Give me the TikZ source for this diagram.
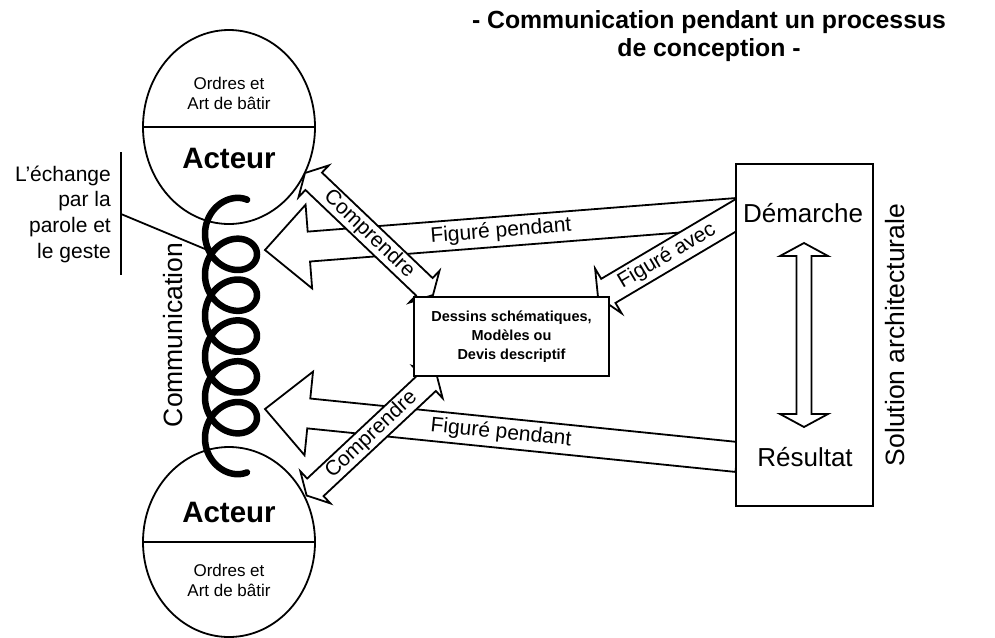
\documentclass[tikz,border=0pt]{standalone}
\usepackage{fontspec}
\setmainfont{Liberation Sans}
\usetikzlibrary{calc,shapes.geometric}

\tikzset{
  outline/.style={line width=1.8pt, line join=miter},
  blockarrow/.style={outline, fill=white},
  arrowtext/.style={font=\fontsize{21}{24}\selectfont, inner sep=0pt},
  actor/.style={ellipse, draw, line width=1.8pt, fill=white,
    minimum width=172pt, minimum height=194pt, inner sep=0pt},
  actorname/.style={font=\bfseries\fontsize{29.5}{32}\selectfont, inner sep=0pt},
  rules/.style={font=\fontsize{17}{20}\selectfont, align=center, inner sep=0pt},
  bigtext/.style={font=\fontsize{26}{30}\selectfont, inner sep=0pt},
  sidenote/.style={font=\fontsize{21}{25.7}\selectfont, align=right, inner sep=0pt},
  docbox/.style={draw, line width=1.8pt, fill=white, minimum width=195pt,
    minimum height=79pt, align=center, inner sep=0pt,
    font=\bfseries\fontsize{14.5}{19}\selectfont},
  solbox/.style={draw, line width=1.8pt, fill=white, minimum width=137pt,
    minimum height=342pt, inner sep=0pt},
  heading/.style={font=\bfseries\fontsize{24.8}{28}\selectfont, align=center, inner sep=0pt},
  coil/.style={line width=6.5pt, line cap=round, line join=round},
}

% one-headed block arrow: [text pos] tail, tip, shaft half-width,
% head half-width, head length, label
\newcommand{\onewayarrow}[7][0.5]{%
  \draw[blockarrow]
    ($(#2)!#4!90:(#3)$) --
    ($(#3)!#6!(#2)!#4!90:(#3)$) --
    ($(#3)!#6!(#2)!#5!90:(#3)$) --
    (#3) --
    ($(#3)!#6!(#2)!#5!-90:(#3)$) --
    ($(#3)!#6!(#2)!#4!-90:(#3)$) --
    ($(#2)!#4!-90:(#3)$) -- cycle;
  \path (#2) -- (#3) node[pos=#1, sloped, arrowtext] {#7};
}

% two-headed block arrow: end A, end B, shaft half-width,
% head half-width, head length, label
\newcommand{\twowayarrow}[6]{%
  \draw[blockarrow]
    (#1) --
    ($(#1)!#5!(#2)!#4!90:(#2)$) --
    ($(#1)!#5!(#2)!#3!90:(#2)$) --
    ($(#2)!#5!(#1)!#3!-90:(#1)$) --
    ($(#2)!#5!(#1)!#4!-90:(#1)$) --
    (#2) --
    ($(#2)!#5!(#1)!#4!90:(#1)$) --
    ($(#2)!#5!(#1)!#3!90:(#1)$) --
    ($(#1)!#5!(#2)!#3!-90:(#2)$) --
    ($(#1)!#5!(#2)!#4!-90:(#2)$) -- cycle;
  \path (#1) -- (#2) node[midway, sloped, arrowtext] {#6};
}

\begin{document}
\begin{tikzpicture}[x=1pt, y=-1pt]
  \useasboundingbox (0,0) rectangle (995,637);

  % title
  \node[heading] (title) at (709,36)
    {- Communication pendant un processus\\de conception -};

  % the two actors
  \node[actor] (actorTop) at (229,127) {};
  \draw[outline] (actorTop.west) -- (actorTop.east);
  \node[rules] (rulesTop) at (229,93) {Ordres et\\Art de bâtir};
  \node[actorname] (nameTop) at (229,158) {Acteur};

  \node[actor, minimum height=190pt] (actorBot) at (229,542) {};
  \draw[outline] (actorBot.west) -- (actorBot.east);
  \node[actorname] (nameBot) at (229,512) {Acteur};
  \node[rules] (rulesBot) at (229,580) {Ordres et\\Art de bâtir};

  % speech and gesture note
  \node[sidenote, anchor=east] (exchange) at (111,214)
    {L’échange\\par la\\parole et\\le geste};
  \coordinate (barTop) at (121,152);
  \coordinate (barBot) at (121,275);
  \coordinate (barJoint) at (121,214);
  \coordinate (coilJoint) at (205,249);
  \draw[outline] (barTop) -- (barBot);
  \draw[outline] (barJoint) -- (coilJoint);

  % arrow end points
  \coordinate (fpTopTail) at (737,213);
  \coordinate (fpTopTip) at (265,250);
  \coordinate (fpBotTail) at (737,457);
  \coordinate (fpBotTip) at (265,409);
  \coordinate (faTail) at (760,201);
  \coordinate (faTip) at (598,297);
  \coordinate (cpTopA) at (305,173);
  \coordinate (cpTopB) at (433,295);
  \coordinate (cpBotA) at (306.6,495.5);
  \coordinate (cpBotB) at (436.4,374);
  \coordinate (dmTop) at (804,243);
  \coordinate (dmBot) at (804,427);

  % figured-while arrows towards the actors
  \onewayarrow{fpTopTail}{fpTopTip}{15pt}{42pt}{44pt}{Figuré pendant}
  \onewayarrow{fpBotTail}{fpBotTip}{15pt}{42pt}{44pt}{Figuré pendant}
  % figured-with arrow towards the drawings
  \onewayarrow[0.574]{faTail}{faTip}{14pt}{26pt}{12pt}{Figuré avec}
  % understanding arrows
  \twowayarrow{cpTopA}{cpTopB}{12pt}{22pt}{12pt}{Comprendre}
  \twowayarrow{cpBotA}{cpBotB}{12pt}{22pt}{12pt}{Comprendre}

  % communication coil
  \draw[coil] plot[samples=700, domain=0.9:36.8, variable=\t]
    ({231+26*cos(\t r)}, {213.5+6.5*\t-25*sin(\t r)});
  \node[bigtext, rotate=90, font=\fontsize{26.5}{30}\selectfont] (comm) at (173,335) {Communication};

  % drawings and models
  \node[docbox] (dessins) at (511.5,336.5)
    {Dessins schématiques,\\Modèles ou\\Devis descriptif};

  % architectural solution
  \node[solbox] (solution) at (804.5,335) {};
  \node[bigtext] (demarche) at (803,213) {Démarche};
  \node[bigtext] (resultat) at (805,457) {Résultat};
  \twowayarrow{dmTop}{dmBot}{7.5pt}{24pt}{13pt}{}
  \node[bigtext, rotate=90, font=\fontsize{26.5}{30}\selectfont] (soltext) at (895,335)
    {Solution architecturale};
\end{tikzpicture}
\end{document}
